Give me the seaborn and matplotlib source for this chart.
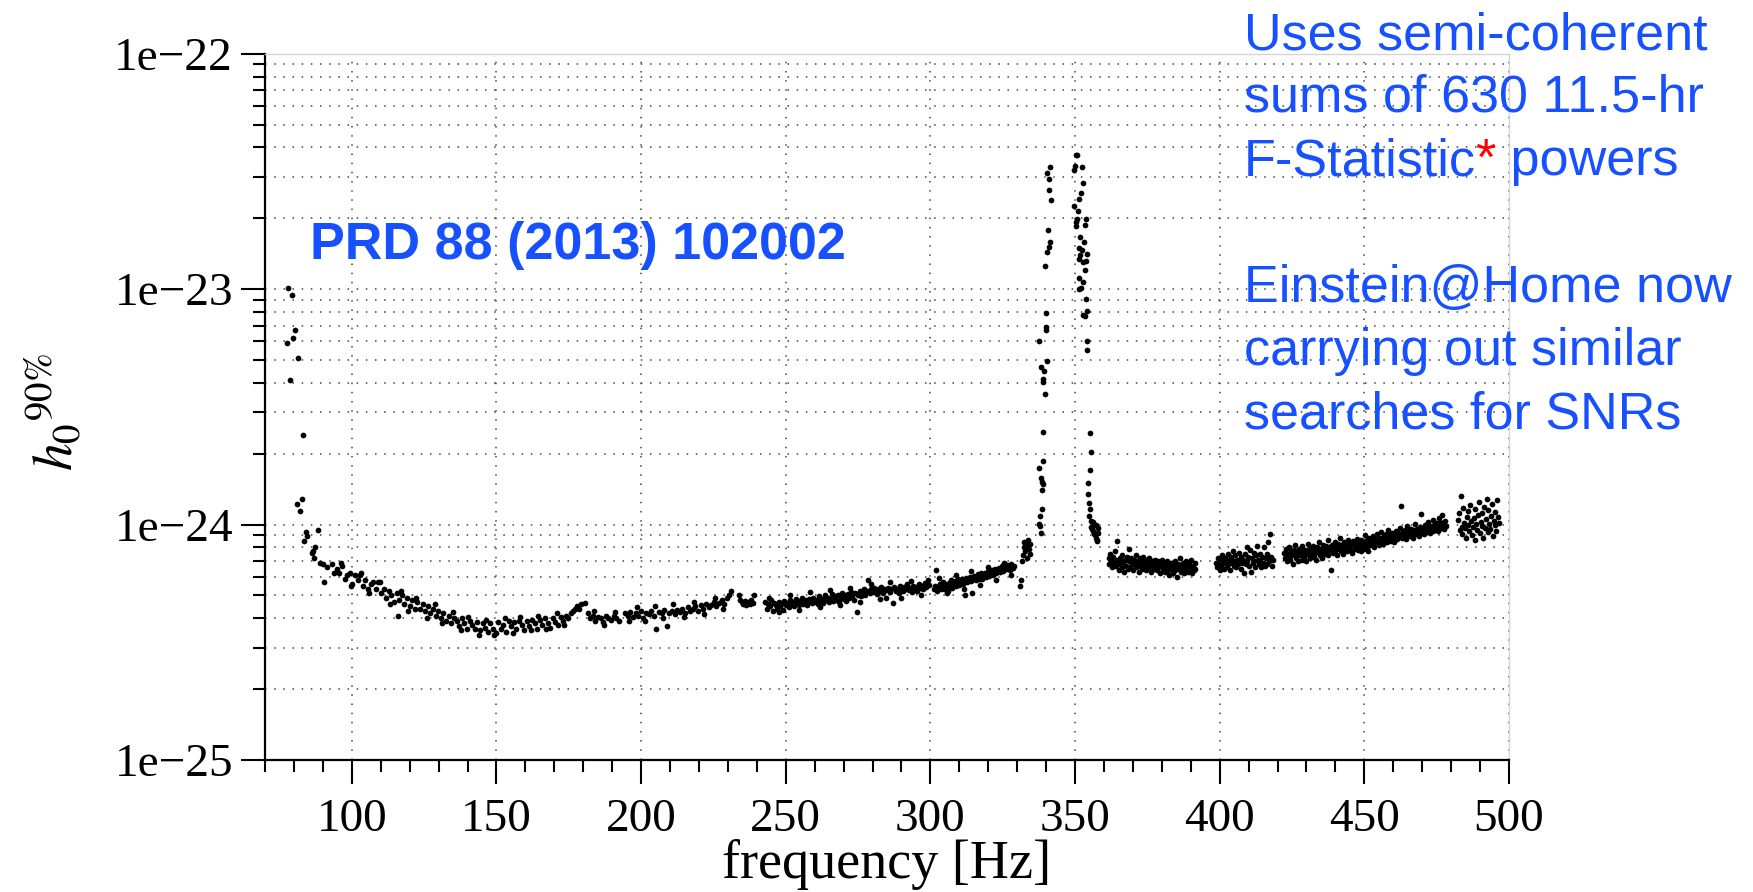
import numpy as np
import matplotlib
matplotlib.use("Agg")
import matplotlib.pyplot as plt
import seaborn as sns
from matplotlib.ticker import NullFormatter, LogLocator, MultipleLocator

# ---------------- data (h0 in units of 1e-24) ----------------
f_low = [77.6, 78.1, 78.7, 79.2, 79.8, 80.4, 81.5, 83.3, 81.0, 82.7, 82.1, 84.1, 84.4, 83.6,
         88.2, 87.3, 86.7, 86.1, 87.1, 89.0, 90.2, 91.3, 90.5]
h_low = [5.9, 10.1, 4.1, 9.4, 6.2, 6.7, 5.1, 2.4, 1.22, 1.28, 1.14, 0.93, 0.89, 0.85,
         0.95, 0.80, 0.77, 0.76, 0.72, 0.69, 0.68, 0.66, 0.57]

f_a = [93.0, 93.9, 94.8, 95.7, 96.6, 97.5, 98.4, 99.3, 100.2, 101.1,
       102.0, 102.9, 103.8, 104.7, 105.6, 106.5, 107.4, 108.3, 109.2, 110.1,
       111.0, 111.9, 112.8, 113.7, 114.6, 115.5, 116.4, 117.3, 118.2, 119.1,
       120.0, 120.9, 121.8, 122.7, 123.6, 124.5, 125.4, 126.3, 127.2, 128.1,
       129.0, 129.9, 130.8, 131.7, 132.6, 133.5, 134.4, 135.3, 136.2, 137.1,
       138.0, 138.9, 139.8, 140.7, 141.6, 142.5, 143.4, 144.3, 145.2, 146.1,
       147.0, 147.9, 148.8, 149.7, 150.6, 151.5, 152.4, 153.3, 154.2, 155.1,
       156.0, 156.9, 157.8, 158.7, 159.6, 160.5, 161.4, 162.3, 163.2, 164.1,
       165.0, 165.9, 166.8, 167.7, 168.6, 169.5, 170.4, 171.3, 172.2, 173.1,
       174.0, 174.9]
h_a = [.68, .62, .65, .62, .67, .59, .61, .62, .56, .61,
       .58, .61, .55, .58, .53, .56, .57, .53, .57, .51,
       .53, .49, .52, .50, .47, .51, .48, .50, .46, .49,
       .45, .48, .44, .47, .44, .46, .43, .45, .42, .44,
       .41, .43, .40, .42, .39, .41, .38, .40, .39, .37,
       .40, .38, .36, .39, .375, .36, .385, .355, .38, .365,
       .35, .38, .36, .345, .385, .36, .375, .35, .39, .37,
       .385, .36, .39, .375, .355, .39, .37, .395, .38, .36,
       .395, .375, .40, .38, .365, .40, .385, .375, .405, .39,
       .41, .40]

f_b = [175.6, 176.4, 177.2, 178.0, 178.6, 179.4, 180.7, 115.9,
       181.5, 182.4, 183.3, 184.2, 185.1, 186.0, 186.9, 187.8, 188.7, 189.6, 190.5, 191.4, 192.3,
       194.5, 195.4, 196.3, 197.2, 198.1, 199.0, 199.9, 200.8, 201.7, 202.6,
       203.5, 204.4, 205.3, 206.2, 207.1, 208.0, 208.9, 209.8, 210.7, 211.6,
       212.5, 213.4, 214.3, 215.2, 216.1, 217.0, 217.9, 218.8, 219.7, 220.6,
       221.5, 222.4, 223.3, 224.2, 225.1, 226.0, 226.9, 227.8, 228.7, 229.6,
       230.5, 231.1]
h_b = [.42, .43, .44, .45, .44, .46, .465, .41,
       .42, .40, .41, .39, .405, .40, .385, .41, .40, .395, .41, .40, .39,
       .42, .41, .425, .405, .42, .41, .43, .40, .42, .415,
       .43, .41, .36, .425, .42, .435, .37, .42, .43, .415,
       .435, .425, .44, .42, .445, .43, .44, .45, .43, .455,
       .44, .46, .445, .455, .47, .45, .465, .48, .46, .49,
       .50, .52]

f_c = [233.8, 234.2, 234.8, 235.3, 235.8, 236.4, 237.0, 237.5, 238.1, 238.6, 239.0]
h_c = [.50, .48, .47, .46, .475, .455, .47, .46, .48, .465, .50]

f_d = [243.0, 243.5, 244.0, 244.5, 245.0, 245.5, 246.0, 246.5, 247.0, 247.5,
       248.0, 248.5, 249.0, 249.5, 250.0, 250.5, 251.0, 251.5, 252.0, 252.5,
       253.0, 253.5, 254.0, 254.5, 255.0, 255.5, 256.0, 256.5, 257.0, 257.5,
       258.0, 258.5, 259.0, 259.5, 260.0, 260.5, 261.0, 261.5, 262.0, 262.5,
       263.0, 263.5, 264.0, 264.5, 265.0, 265.5, 266.0, 266.5, 267.0, 267.5,
       268.0, 268.5, 269.0, 269.5, 270.0, 270.5, 271.0, 271.5, 272.0, 272.5,
       273.0, 273.5, 274.0, 274.5, 275.0, 275.5, 276.0, 276.5, 277.0, 277.5,
       278.0, 278.5, 279.0, 279.5, 280.0, 280.5, 281.0, 281.5, 282.0, 282.5,
       283.0, 283.5, 284.0, 284.5, 285.0, 285.5, 286.0, 286.5, 287.0, 287.5,
       288.0, 288.5, 289.0, 289.5, 290.0, 290.5, 291.0, 291.5, 292.0, 292.5,
       293.0, 293.5, 294.0, 294.5, 295.0, 295.5, 296.0, 296.5, 297.0, 297.5,
       298.0, 298.5, 299.0, 299.5]
h_d = [.47, .44, .46, .45, .48, .43, .465, .455, .44, .47,
       .45, .46, .435, .475, .455, .465, .445, .48, .46, .47,
       .45, .485, .465, .455, .475, .49, .46, .48, .47, .455,
       .485, .475, .465, .49, .47, .48, .46, .495, .475, .485,
       .465, .50, .48, .49, .47, .485, .505, .475, .495, .48,
       .50, .47, .49, .51, .485, .50, .475, .505, .49, .515,
       .495, .48, .51, .425, .50, .52, .495, .51, .53, .50,
       .52, .58, .51, .53, .515, .54, .52, .505, .535, .52,
       .545, .51, .53, .49, .525, .54, .515, .53, .465, .545,
       .52, .535, .51, .55, .53, .52, .545, .535, .56, .525,
       .54, .515, .55, .53, .545, .52, .56, .54, .55, .535,
       .565, .545, .58, .555]

f_e = [301.2, 301.6, 302.0, 302.4, 302.8, 303.2, 303.6, 304.0, 304.4, 304.8,
       305.2, 305.6, 306.0, 306.4, 306.8, 307.2, 307.6, 308.0, 308.4, 308.8,
       309.2, 309.6, 310.0, 310.4, 310.8, 311.2, 311.6, 312.0, 312.4, 312.8,
       313.2, 313.6, 314.0, 314.4, 314.8, 315.2, 315.6, 316.0, 316.4, 316.8,
       317.2, 317.6, 318.0, 318.4, 318.8, 319.2, 319.6, 320.0, 320.4, 320.8,
       321.2, 321.6, 322.0, 322.4, 322.8, 323.2, 323.6, 324.0, 324.4, 324.8,
       325.2, 325.6, 326.0, 326.4, 326.8, 327.2, 327.6, 328.0, 328.4, 328.8]
h_e = [.53, .55, .64, .52, .545, .56, .53, .55, .57, .535,
       .56, .545, .52, .565, .55, .58, .54, .56, .575, .55,
       .565, .585, .555, .57, .59, .56, .58, .50, .595, .57,
       .585, .60, .575, .51, .59, .605, .58, .60, .615, .585,
       .605, .62, .59, .61, .625, .60, .615, .635, .605, .62,
       .64, .61, .63, .645, .62, .64, .655, .63, .65, .67,
       .635, .66, .645, .675, .65, .665, .64, .68, .655, .67]

# extra scattered points at the upper/lower edges of the 95-330 Hz band
f_x = [96.1, 99.8, 103.3, 106.0, 109.7, 113.1, 116.9, 119.5, 122.2, 125.9,
       128.6, 131.2, 134.9, 137.6, 140.2, 143.9, 146.5, 149.2, 152.8, 155.6,
       158.2, 161.9, 164.5, 167.2, 170.9, 173.5, 183.7, 187.1, 190.9, 195.8,
       198.6, 201.2, 204.8, 207.6, 211.2, 214.8, 218.3, 221.9, 225.6, 228.2,
       244.2, 247.8, 251.3, 254.7, 258.3, 261.8, 265.2, 268.8, 272.2, 275.8,
       279.3, 282.7, 286.2, 289.8, 293.2, 296.8, 303.0, 305.9, 308.7, 311.5,
       314.2, 317.0, 319.8, 322.6, 325.4, 327.9]
h_x = [.69, .55, .62, .51, .57, .46, .52, .43, .49, .40,
       .46, .38, .425, .355, .405, .34, .395, .34, .40, .345,
       .405, .355, .41, .36, .42, .375, .43, .375, .425, .39,
       .445, .39, .45, .40, .46, .405, .47, .415, .49, .44,
       .49, .425, .50, .435, .515, .445, .525, .455, .54, .47,
       .56, .485, .57, .49, .575, .50, .595, .51, .61, .53,
       .635, .555, .66, .58, .69, .61]

f_f = [330.8, 331.2, 331.6, 331.9, 332.2, 332.5, 332.8, 333.1, 333.4, 333.7, 334.0, 334.3, 334.6]
h_f = [.55, .58, .70, .74, .80, .84, .77, .82, .72, .86, .79, .83, .75]

f_p1 = [341.5, 340.4, 340.9, 341.1, 341.7, 340.7, 341.3, 341.1, 340.2, 339.6,
        340.0, 339.8, 340.1, 337.7, 340.4, 338.3, 339.3, 339.0, 338.9, 339.6,
        338.8, 338.8, 337.7, 338.1, 338.7, 339.0, 338.5, 338.7, 337.9, 337.5,
        337.8, 338.1]
h_p1 = [32.9, 31.0, 29.3, 26.4, 24.0, 17.8, 15.8, 15.1, 14.4, 12.5,
        7.94, 6.89, 6.73, 6.04, 4.96, 4.65, 4.51, 4.16, 4.03, 3.59,
        2.47, 1.86, 1.74, 1.58, 1.51, 1.48, 1.40, 1.17, 1.09, 1.01,
        0.99, 0.92]

f_p2 = [350.2, 350.6, 350.0, 349.6, 352.4, 352.8, 352.1, 351.3, 349.8, 351.0,
        350.6, 353.7, 353.6, 350.3, 350.2, 351.7, 353.1, 351.3, 352.5, 354.3,
        351.7, 351.5, 352.6, 353.7, 353.3, 351.5, 352.9, 352.0, 351.5, 353.8,
        354.0, 352.9, 353.3, 354.3, 354.1, 355.0, 355.6, 355.0, 354.6, 354.6,
        354.7, 355.1, 354.8, 355.6, 356.3, 356.6, 355.4, 357.3, 358.1, 355.9,
        356.3, 357.5, 356.6, 357.9, 357.1, 357.7, 357.5]
h_p2 = [37.3, 37.3, 33.5, 32.0, 33.0, 28.3, 25.7, 24.2, 22.6, 21.5,
        19.8, 19.8, 18.8, 19.2, 18.5, 16.7, 15.8, 14.9, 14.7, 14.1,
        13.9, 13.4, 13.0, 13.2, 12.0, 11.1, 10.7, 10.1, 10.0, 9.06,
        8.06, 7.73, 7.66, 6.0, 5.49, 2.44, 2.04, 1.71, 1.50, 1.35,
        1.23, 1.16, 1.09, 1.04, 1.03, 0.996, 0.98, 1.0, 0.97, 0.96,
        0.94, 0.92, 0.91, 0.92, 0.88, 0.86, 0.85]

f_g = [361.6, 361.9, 362.2, 362.5, 362.8, 363.1, 363.4, 363.7, 364.0, 364.3,
       364.6, 364.9, 365.2, 365.5, 365.8, 366.1, 366.4, 366.7, 367.0, 367.3,
       367.6, 367.9, 368.2, 368.5, 368.8, 369.1, 369.4, 369.7, 370.0, 370.3,
       370.6, 370.9, 371.2, 371.5, 371.8, 372.1, 372.4, 372.7, 373.0, 373.3,
       373.6, 373.9, 374.2, 374.5, 374.8, 375.1, 375.4, 375.7, 376.0, 376.3,
       376.6, 376.9, 377.2, 377.5, 377.8, 378.1, 378.4, 378.7, 379.0, 379.3,
       379.6, 379.9, 380.2, 380.5, 380.8, 381.1, 381.4, 381.7, 382.0, 382.3,
       382.6, 382.9, 383.2, 383.5, 383.8, 384.1, 384.4, 384.7, 385.0, 385.3,
       385.6, 385.9, 386.2, 386.5, 386.8, 387.1, 387.4, 387.7, 388.0, 388.3,
       388.6, 388.9, 389.2, 389.5, 389.8, 390.1, 390.4, 390.7, 391.0, 391.3,
       391.6]
h_g = [.72, .68, .75, .70, .66, .73, .69, .77, .67, .71,
       .855, .68, .64, .72, .70, .66, .74, .69, .63, .71,
       .67, .73, .65, .79, .70, .66, .72, .68, .64, .71,
       .69, .74, .66, .70, .67, .63, .72, .68, .70, .65,
       .73, .67, .69, .64, .71, .68, .66, .72, .67, .63,
       .70, .68, .65, .71, .66, .69, .64, .70, .67, .62,
       .69, .66, .71, .65, .68, .63, .67, .70, .64, .68,
       .61, .66, .69, .65, .62, .67, .70, .64, .66, .60,
       .68, .65, .72, .63, .67, .65, .69, .62, .66, .70,
       .64, .67, .63, .68, .65, .71, .62, .67, .64, .69,
       .65]

f_h = [398.8, 399.1, 399.4, 399.7, 400.0, 400.3, 400.6, 400.9, 401.2, 401.5,
       401.8, 402.1, 402.4, 402.7, 403.0, 403.3, 403.6, 403.9, 404.2, 404.5,
       404.8, 405.1, 405.4, 405.7, 406.0, 406.3, 406.6, 406.9, 407.2, 407.5,
       407.8, 408.1, 408.4, 408.7, 409.0, 409.3, 409.6, 409.9, 410.2, 410.5,
       410.8, 411.1, 411.4, 411.7, 412.0, 412.3, 412.6, 412.9, 413.2, 413.5,
       413.8, 414.1, 414.4, 414.7, 415.0, 415.3, 415.6, 415.9, 416.2, 416.5,
       416.8, 417.1, 417.4, 417.7, 418.0, 418.3]
h_h = [.69, .66, .72, .68, .64, .71, .67, .74, .69, .65,
       .72, .70, .66, .75, .68, .71, .64, .73, .69, .77,
       .67, .70, .74, .66, .71, .68, .76, .70, .65, .73,
       .69, .71, .62, .75, .68, .80, .70, .73, .67, .78,
       .63, .72, .69, .76, .70, .66, .74, .81, .71, .68,
       .75, .70, .66, .73, .69, .80, .67, .72, .68, .75,
       .84, .70, .91, .73, .67, .71]

f_i = [422.3, 422.6, 422.9, 423.2, 423.5, 423.8, 424.1, 424.4, 424.7, 425.0,
       425.3, 425.6, 425.9, 426.2, 426.5, 426.8, 427.1, 427.4, 427.7, 428.0,
       428.3, 428.6, 428.9, 429.2, 429.5, 429.8, 430.1, 430.4, 430.7, 431.0,
       431.3, 431.6, 431.9, 432.2, 432.5, 432.8, 433.1, 433.4, 433.7, 434.0,
       434.3, 434.6, 434.9, 435.2, 435.5, 435.8, 436.1, 436.4, 436.7, 437.0,
       437.3, 437.6, 437.9, 438.2, 438.5, 438.8, 439.1, 439.4, 439.7, 440.0,
       440.3, 440.6, 440.9, 441.2, 441.5, 441.8, 442.1, 442.4, 442.7, 443.0,
       443.3, 443.6, 443.9, 444.2, 444.5, 444.8, 445.1, 445.4, 445.7, 446.0,
       446.3, 446.6, 446.9, 447.2, 447.5, 447.8, 448.1, 448.4, 448.7, 449.0,
       449.3, 449.6, 449.9, 450.2, 450.5, 450.8, 451.1, 451.4, 451.7, 452.0,
       452.3, 452.6, 452.9, 453.2, 453.5, 453.8, 454.1, 454.4, 454.7, 455.0,
       455.3, 455.6, 455.9, 456.2, 456.5, 456.8, 457.1, 457.4, 457.7, 458.0,
       458.3, 458.6, 458.9, 459.2, 459.5, 459.8, 460.1, 460.4, 460.7, 461.0,
       461.3, 461.6, 461.9, 462.2, 462.5, 462.8, 463.1, 463.4, 463.7, 464.0,
       464.3, 464.6, 464.9, 465.2, 465.5, 465.8, 466.1, 466.4, 466.7, 467.0,
       467.3, 467.6, 467.9, 468.2, 468.5, 468.8, 469.1, 469.4, 469.7, 470.0,
       470.3, 470.6, 470.9, 471.2, 471.5, 471.8, 472.1, 472.4, 472.7, 473.0,
       473.3, 473.6, 473.9, 474.2, 474.5, 474.8, 475.1, 475.4, 475.7, 476.0,
       476.3, 476.6, 476.9, 477.2, 477.5, 477.8, 478.1]
h_i = [.76, .72, .79, .70, .75, .73, .80, .71, .77, .74,
       .68, .78, .75, .82, .72, .76, .70, .79, .74, .77,
       .71, .81, .75, .73, .78, .70, .76, .83, .74, .79,
       .72, .77, .75, .81, .73, .78, .76, .71, .80, .77,
       .84, .74, .79, .76, .72, .82, .78, .75, .81, .77,
       .86, .74, .80, .78, .64, .82, .76, .79, .84, .77,
       .81, .74, .83, .79, .88, .77, .82, .80, .75, .84,
       .79, .81, .77, .86, .80, .83, .78, .82, .76, .85,
       .81, .79, .84, .80, .87, .78, .83, .81, .77, .86,
       .82, .84, .79, .90, .83, .86, .81, .77, .88, .84,
       .86, .82, .89, .85, .80, .87, .84, .91, .86, .82,
       .88, .85, .93, .87, .83, .89, .86, .91, .84, .88,
       .95, .87, .90, .85, .92, .88, .84, .91, .89, .94,
       .87, .92, .89, .97, .90, 1.20, .88, .93, .90, .95,
       .87, .92, .99, .91, .94, .89, .96, .92, .88, .95,
       .93, 1.01, .91, .96, .94, .89, .98, .95, 1.11, .93,
       .97, .91, 1.00, .95, .98, .93, 1.03, .96, .92, .99,
       .97, 1.05, .94, 1.00, .96, 1.02, .98, .94, 1.07, .99,
       1.03, .97, 1.10, 1.01, .96, 1.04, .99]

f_j = [482.4, 482.7, 483.0, 483.3, 483.6, 483.9, 484.2, 484.5, 484.8, 485.1,
       485.4, 485.7, 486.0, 486.3, 486.6, 486.9, 487.2, 487.5, 487.8, 488.1,
       488.4, 488.7, 489.0, 489.3, 489.6, 489.9, 490.2, 490.5, 490.8, 491.1,
       491.4, 491.7, 492.0, 492.3, 492.6, 492.9, 493.2, 493.5, 493.8, 494.1,
       494.4, 494.7, 495.0, 495.3, 495.6, 495.9, 496.2, 496.5]
h_j = [1.05, 1.12, .95, 1.32, .98, .91, 1.18, 1.02, .97, .88,
       1.08, 1.14, 1.00, .94, 1.21, 1.04, .90, .98, 1.07, 1.16,
       .86, 1.01, .95, 1.10, 1.25, .92, 1.03, .99, 1.12, .88,
       1.19, .97, 1.06, 1.29, 1.15, .93, 1.01, .96, 1.09, 1.22,
       .89, 1.04, 1.00, 1.13, .94, 1.27, 1.08, 1.02]

x_major = [100, 150, 200, 250, 300, 350, 400, 450, 500]
y_major = [1e-25, 1e-24, 1e-23, 1e-22]
y_labels = ["1e\u221225", "1e\u221224", "1e\u221223", "1e\u221222"]

note_lines_top = ["Uses semi-coherent", "sums of 630 11.5-hr"]
note_fstat = "F-Statistic"
note_after = " powers"
note_lines_bottom = ["Einstein@Home now", "carrying out similar", "searches for SNRs"]
ref_text = "PRD 88 (2013) 102002"

# ---------------- assemble ----------------
segs_f = [f_low, f_a, f_b, f_c, f_d, f_e, f_x, f_f, f_p1, f_p2, f_g, f_h, f_i, f_j]
segs_h = [h_low, h_a, h_b, h_c, h_d, h_e, h_x, h_f, h_p1, h_p2, h_g, h_h, h_i, h_j]
for a, b in zip(segs_f, segs_h):
    assert len(a) == len(b), (len(a), len(b), a[0])
freq = np.concatenate([np.asarray(a, float) for a in segs_f])
h0 = np.concatenate([np.asarray(b, float) for b in segs_h]) * 1e-24

# ---------------- style ----------------
sns.set_style("white")
plt.rcParams["font.family"] = ["Liberation Serif", "DejaVu Serif"]
plt.rcParams["mathtext.fontset"] = "stix"
plt.rcParams["text.color"] = "black"
plt.rcParams["axes.labelcolor"] = "black"
plt.rcParams["xtick.color"] = "black"
plt.rcParams["ytick.color"] = "black"

BLUE = "#1750ff"

fig = plt.figure(figsize=(17.53, 8.92), dpi=100)
ax = fig.add_axes([265 / 1753, 1 - 760 / 892, (1509 - 265) / 1753, (760 - 53.7) / 892])

sns.scatterplot(x=freq, y=h0, ax=ax, color="black", s=17, linewidth=0, legend=False, zorder=3)

ax.set_yscale("log")
ax.set_xlim(70, 500)
ax.set_ylim(1e-25, 1e-22)

ax.set_yticks(y_major, labels=y_labels)
ax.yaxis.set_minor_locator(LogLocator(base=10, subs=[2, 3, 4, 5, 6, 7, 8, 9]))
ax.yaxis.set_minor_formatter(NullFormatter())
ax.set_xticks(x_major, labels=[str(v) for v in x_major])
ax.xaxis.set_minor_locator(MultipleLocator(10))

ax.tick_params(axis="both", which="both", bottom=True, left=True, top=False, right=False)
ax.tick_params(axis="both", which="major", direction="out", length=17, width=1.5,
               labelsize=34, color="black", labelcolor="black")
ax.tick_params(axis="both", which="minor", direction="out", length=8.5, width=1.5, color="black")
ax.tick_params(axis="y", which="major", pad=6)
ax.tick_params(axis="x", which="major", pad=11)

for s in ["left", "bottom"]:
    ax.spines[s].set_linewidth(1.6)
    ax.spines[s].set_color("black")
for s in ["top", "right"]:
    ax.spines[s].set_linewidth(1.0)
    ax.spines[s].set_color("#d4d4d4")

grid_kw = dict(color="#444444", linewidth=1.1, linestyle=(0, (1, 5)))
ax.grid(True, which="both", axis="y", **grid_kw)
ax.grid(True, which="major", axis="x", **grid_kw)
ax.grid(False, which="minor", axis="x")
ax.set_axisbelow(True)

ax.set_xlabel("frequency [Hz]", fontsize=39, labelpad=0, color="black")
ax.xaxis.set_label_coords(0.5, -0.112)
ax.set_ylabel("")
fig.text(0.031, 0.538, r"$h_0{}^{90\%}$", rotation=90, fontsize=40, ha="center", va="center",
         color="black")

# ---------------- annotations ----------------
sans = ["Liberation Sans", "DejaVu Sans"]
fig.text(309.7 / 1753, 1 - 259.4 / 892, ref_text, color=BLUE, fontsize=37.5,
         fontweight="bold", family=sans, ha="left", va="baseline")

x0 = 1243.5 / 1753
base = [50, 112, 175, 302, 365, 428]
fig.text(x0, 1 - base[0] / 892, note_lines_top[0], color=BLUE, fontsize=37.5, family=sans, va="baseline")
fig.text(x0, 1 - base[1] / 892, note_lines_top[1], color=BLUE, fontsize=37.5, family=sans, va="baseline")
t_f = fig.text(x0, 1 - base[2] / 892, note_fstat, color=BLUE, fontsize=37.5, family=sans, va="baseline")
t_star = ax.annotate("*", xy=(1, 0), xycoords=t_f, color="red", fontsize=37.5, family=sans,
                     va="bottom", ha="left", annotation_clip=False)
ax.annotate(note_after, xy=(1, 0), xycoords=t_star, color=BLUE, fontsize=37.5, family=sans,
            va="bottom", ha="left", annotation_clip=False)
for k, line in enumerate(note_lines_bottom):
    fig.text(x0, 1 - base[3 + k] / 892, line, color=BLUE, fontsize=37.5, family=sans, va="baseline")

fig.savefig("out.png", dpi=100)
